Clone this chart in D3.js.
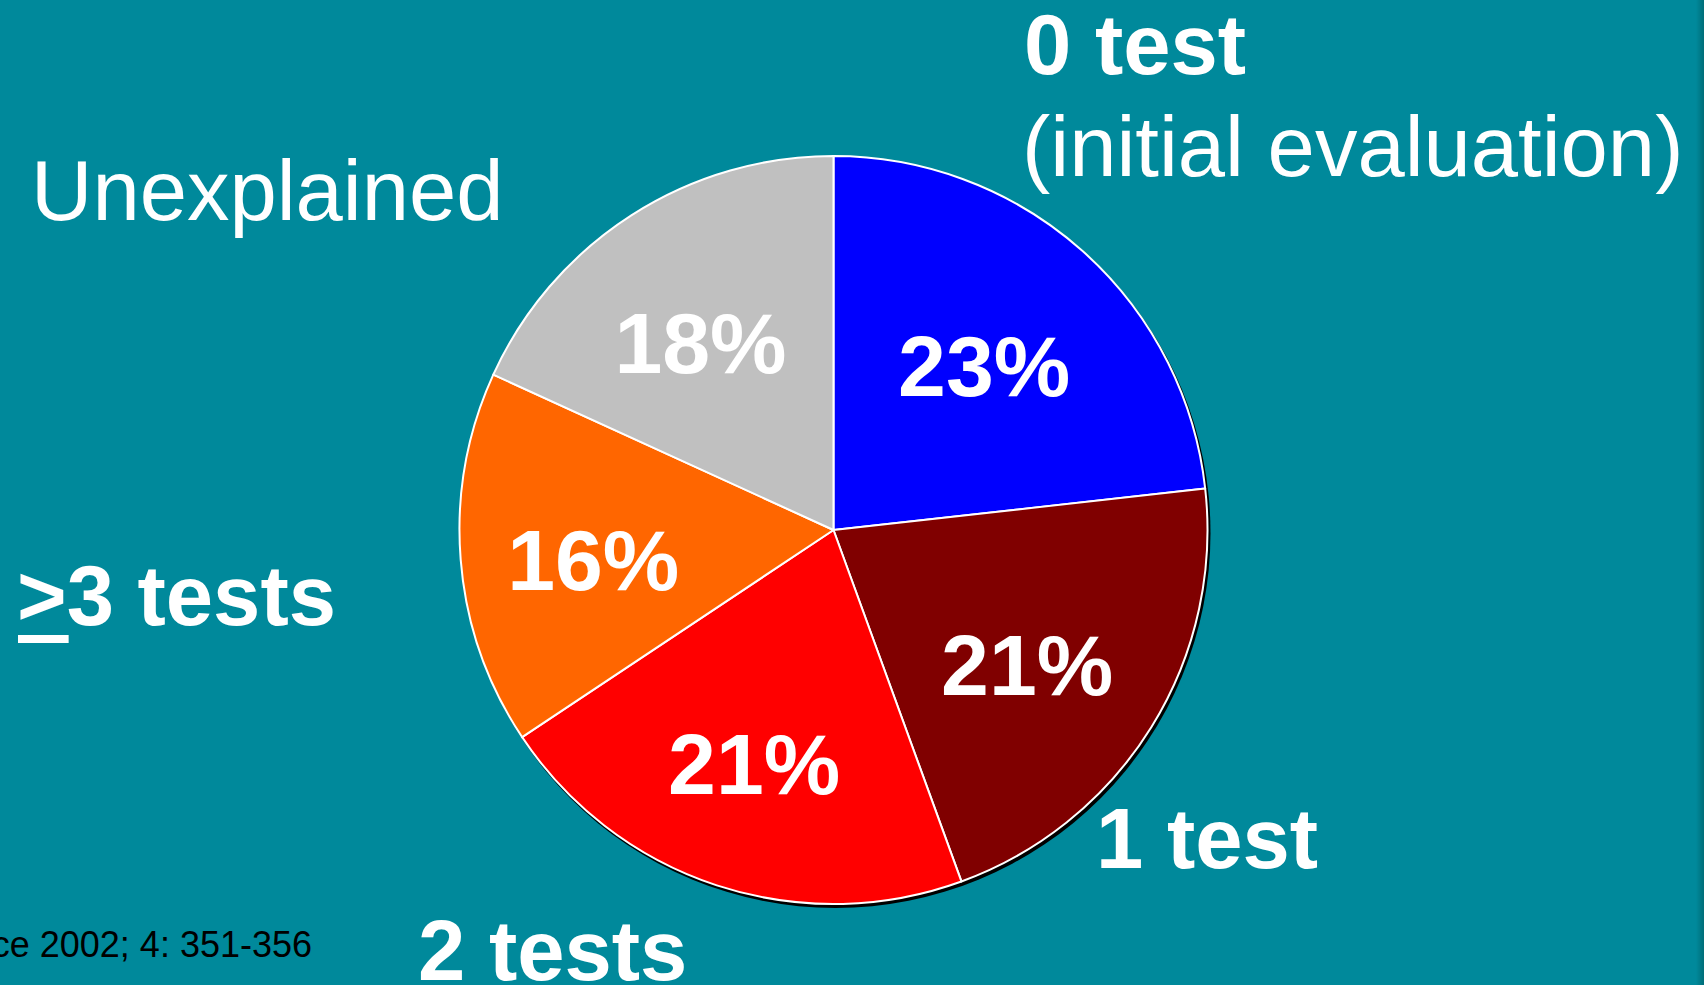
<!DOCTYPE html>
<html>
<head>
<meta charset="utf-8">
<script src="https://cdn.jsdelivr.net/npm/d3@7"></script>
<style>
  html, body { margin: 0; padding: 0; background: #00899b; overflow: hidden; }
  svg { display: block; }
  text { font-family: "Liberation Sans", Arial, sans-serif; }
</style>
</head>
<body>
<svg id="chart" width="1704" height="985"></svg>
<script>
// ---- data ----
const categories = ["0 test", "1 test", "2 tests", ">3 tests", "Unexplained"];
const values = [23, 21, 21, 16, 18];
const percentLabels = ["23%", "21%", "21%", "16%", "18%"];
const colors = ["#0000ff", "#800000", "#ff0000", "#ff6600", "#c0c0c0"];
const footnote = "Europace 2002; 4: 351-356";

const W = 1704, H = 985;
const svg = d3.select("#chart");

// background
svg.append("rect").attr("width", W).attr("height", H).attr("fill", "#00899b");
const grad = svg.append("defs").append("linearGradient").attr("id", "edge")
  .attr("x1", "0").attr("x2", "1").attr("y1", "0").attr("y2", "0");
grad.append("stop").attr("offset", "0").attr("stop-color", "#00899b");
grad.append("stop").attr("offset", "1").attr("stop-color", "#006d78");
svg.append("rect").attr("x", W - 8).attr("y", 0).attr("width", 8).attr("height", H).attr("fill", "url(#edge)");

const cx = 833.5, cy = 530, R = 374;
const g = svg.append("g").attr("transform", `translate(${cx},${cy})`);

const data = categories.map((c, i) => ({ cat: c, value: values[i], label: percentLabels[i], color: colors[i] }));
const pie = d3.pie().value(d => d.value).sort(null);
const arcs = pie(data);
const arc = d3.arc().innerRadius(0).outerRadius(R);
const labelArc = d3.arc().innerRadius(235).outerRadius(235);

// shadow
g.append("circle").attr("cx", 2).attr("cy", 3).attr("r", R + 1).attr("fill", "#000");

g.selectAll("path.slice").data(arcs).enter().append("path")
  .attr("class", "slice")
  .attr("d", arc)
  .attr("fill", d => d.data.color)
  .attr("stroke", "#ffffff")
  .attr("stroke-width", 2)
  .attr("stroke-linejoin", "round");

g.selectAll("text.pct").data(arcs).enter().append("text")
  .attr("class", "pct")
  .attr("x", d => labelArc.centroid(d)[0] - 6)
  .attr("y", d => labelArc.centroid(d)[1] + 11)
  .attr("text-anchor", "middle")
  .attr("dominant-baseline", "central")
  .attr("fill", "#fff")
  .attr("font-weight", "bold")
  .attr("font-size", 86)
  .text(d => d.data.label);

// category labels
svg.append("text").attr("x", 1024).attr("y", 74).attr("fill", "#fff")
  .attr("font-weight", "bold").attr("font-size", 85).text(categories[0]);
svg.append("text").attr("x", 1022).attr("y", 176).attr("fill", "#fff")
  .attr("font-size", 85).text("(initial evaluation)");
svg.append("text").attr("x", 1096).attr("y", 868).attr("fill", "#fff")
  .attr("font-weight", "bold").attr("font-size", 85).text(categories[1]);
svg.append("text").attr("x", 418).attr("y", 980).attr("fill", "#fff")
  .attr("font-weight", "bold").attr("font-size", 85).text(categories[2]);
const t3 = svg.append("text").attr("x", 17).attr("y", 625).attr("fill", "#fff")
  .attr("font-weight", "bold").attr("font-size", 85).text(categories[3]);
const gtW = t3.node().getSubStringLength(0, 1);
svg.append("rect").attr("x", 18).attr("y", 635).attr("width", gtW + 1).attr("height", 8).attr("fill", "#fff");
svg.append("text").attr("x", 31).attr("y", 220).attr("fill", "#fff")
  .attr("font-size", 85).text(categories[4]);

// footnote
svg.append("text").attr("x", 312).attr("y", 957).attr("text-anchor", "end")
  .attr("fill", "#000").attr("font-size", 36).text(footnote);
</script>
</body>
</html>
